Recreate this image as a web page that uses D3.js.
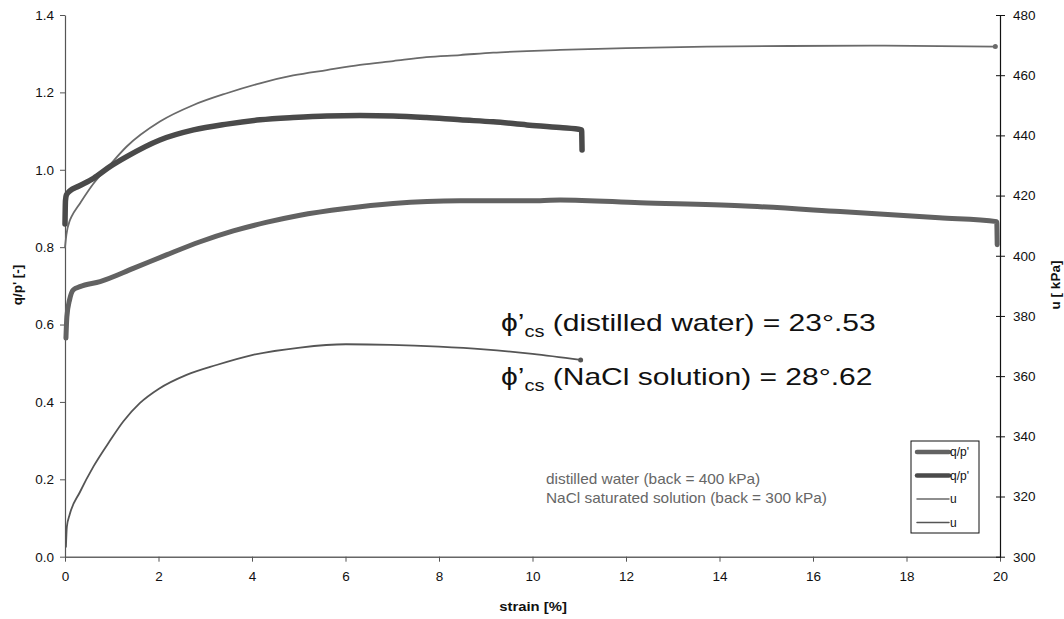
<!DOCTYPE html>
<html>
<head>
<meta charset="utf-8">
<script src="https://cdn.jsdelivr.net/npm/d3@7"></script>
<style>
  body { margin: 0; background: #fff; }
  text { font-family: "Liberation Sans", Arial, sans-serif; }
</style>
</head>
<body>
<div id="chart"></div>
<script>
var svgWidth = 1064;
var svgHeight = 619;

// distilled water, q/p'
var dwStrain = [0.02, 0.04, 0.1, 0.18, 0.32, 0.75, 1.46, 2.17, 2.89, 3.6, 4.3, 5.0, 6.0, 7.02, 8.45, 10.16, 10.59, 12.3, 14.44, 16.58, 18.7, 19.93, 19.94];
var dwQp = [0.565, 0.62, 0.665, 0.69, 0.698, 0.711, 0.745, 0.78, 0.814, 0.842, 0.864, 0.882, 0.9, 0.913, 0.92, 0.92, 0.922, 0.915, 0.907, 0.892, 0.876, 0.866, 0.806];

// NaCl solution, q/p'
var naStrain = [0, 0.01, 0.03, 0.1, 0.3, 0.61, 0.96, 1.32, 2.03, 2.75, 3.46, 4.17, 4.88, 5.6, 6.31, 7.02, 7.73, 8.45, 9.16, 9.88, 10.59, 11.05, 11.06];
var naQp = [0.86, 0.92, 0.935, 0.945, 0.958, 0.978, 1.008, 1.034, 1.077, 1.103, 1.118, 1.129, 1.135, 1.139, 1.14, 1.139, 1.135, 1.129, 1.124, 1.116, 1.109, 1.103, 1.051];

// distilled water, pore pressure u [kPa]
var dwUStrain = [0, 0.03, 0.107, 0.14, 0.32, 0.61, 0.96, 1.32, 2.03, 2.75, 3.46, 4.17, 4.88, 5.6, 6.31, 7.02, 7.73, 8.45, 9.16, 9.88, 10.59, 12, 13.73, 15.5, 17.3, 19.9];
var dwU = [402.8, 407, 411.9, 413, 417.4, 424, 430.2, 436.3, 444.6, 450.1, 454, 457.3, 459.9, 461.7, 463.4, 464.7, 466, 466.7, 467.5, 468, 468.4, 469, 469.5, 469.7, 469.8, 469.5];

// NaCl solution, pore pressure u [kPa]
var naUStrain = [0.02, 0.04, 0.1, 0.32, 0.61, 0.96, 1.25, 1.6, 2.01, 2.6, 3.24, 4.0, 5.03, 6.01, 6.97, 8.0, 8.96, 10.0, 11.03];
var naU = [303.3, 310, 314, 321.5, 330, 338.5, 345, 351, 355.8, 360.4, 363.7, 367, 369.5, 370.6, 370.4, 369.8, 368.9, 367.4, 365.4];

var xTicks = [0, 2, 4, 6, 8, 10, 12, 14, 16, 18, 20];
var leftTicks = [0, 0.2, 0.4, 0.6, 0.8, 1.0, 1.2, 1.4];
var rightTicks = [300, 320, 340, 360, 380, 400, 420, 440, 460, 480];

var legendLabels = ["q/p'", "q/p'", "u", "u"];

var svg = d3.select("#chart")
  .append("svg")
  .attr("width", svgWidth)
  .attr("height", svgHeight);

var xScale = d3.scaleLinear().domain([0, 20]).range([65, 1000]);
var yLeft = d3.scaleLinear().domain([0, 1.4]).range([556.7, 15]);
var yRight = d3.scaleLinear().domain([300, 480]).range([556.7, 15]);

// axes
var bottomAxis = d3.axisBottom(xScale).tickValues(xTicks).tickSize(5).tickSizeOuter(0).tickPadding(10);
var leftAxis = d3.axisLeft(yLeft).tickValues(leftTicks).tickFormat(d3.format(".1f")).tickSize(5).tickSizeOuter(0).tickPadding(6);
var rightAxis = d3.axisRight(yRight).tickValues(rightTicks).tickSize(5).tickSizeOuter(0).tickPadding(8);

var gx = svg.append("g")
  .attr("transform", "translate(0,556.7)")
  .call(bottomAxis);
gx.select(".domain").attr("stroke", "#666").attr("stroke-width", 1.5);
gx.selectAll(".tick line").attr("stroke", "#555");

var gl = svg.append("g")
  .attr("transform", "translate(65,0)")
  .call(leftAxis);
gl.select(".domain").attr("stroke", "#555").attr("stroke-width", 1.2);
gl.selectAll(".tick line").attr("stroke", "#555");

var gr = svg.append("g")
  .attr("transform", "translate(1000,0)")
  .call(rightAxis);
gr.select(".domain").attr("stroke", "#111").attr("stroke-width", 1.2);
gr.selectAll(".tick line").attr("x1", -4).attr("stroke", "#111");

svg.selectAll(".tick text")
  .style("font-size", "13.5px")
  .style("font-family", "Liberation Sans, Arial, sans-serif")
  .attr("fill", "#111");

// series
function pts(xs, ys) {
  return xs.map(function (d, i) { return [d, ys[i]]; });
}

var lineLeft = d3.line()
  .x(d => xScale(d[0]))
  .y(d => yLeft(d[1]))
  .curve(d3.curveMonotoneX);

var lineRight = d3.line()
  .x(d => xScale(d[0]))
  .y(d => yRight(d[1]))
  .curve(d3.curveMonotoneX);

var series = [
  { data: pts(dwUStrain, dwU), line: lineRight, color: "#6a6a6a", width: 1.8 },
  { data: pts(naUStrain, naU), line: lineRight, color: "#555555", width: 1.8 },
  { data: pts(dwStrain, dwQp), line: lineLeft, color: "#626262", width: 5 },
  { data: pts(naStrain, naQp), line: lineLeft, color: "#4a4a4a", width: 5.5 }
];

series.forEach(function (s) {
  svg.append("path")
    .datum(s.data)
    .attr("d", s.line)
    .attr("fill", "none")
    .attr("stroke", s.color)
    .attr("stroke-width", s.width)
    .attr("stroke-linecap", "round")
    .attr("stroke-linejoin", "round");
});

// small end markers on the u curves
[series[0], series[1]].forEach(function (s) {
  var last = s.data[s.data.length - 1];
  svg.append("circle")
    .attr("cx", xScale(last[0]))
    .attr("cy", yRight(last[1]))
    .attr("r", 2.5)
    .attr("fill", s.color);
});

// axis titles
svg.append("text")
  .attr("transform", "translate(22,285) rotate(-90)")
  .attr("text-anchor", "middle")
  .style("font-size", "13.5px")
  .style("font-weight", "bold")
  .attr("fill", "#111")
  .text("q/p' [-]");

svg.append("text")
  .attr("transform", "translate(1060,285) rotate(-90)")
  .attr("text-anchor", "middle")
  .style("font-size", "13.5px")
  .style("font-weight", "bold")
  .attr("fill", "#111")
  .text("u [ kPa]");

svg.append("text")
  .attr("transform", "translate(533,611) scale(1.1,1)")
  .attr("text-anchor", "middle")
  .style("font-size", "13.5px")
  .style("font-weight", "bold")
  .attr("fill", "#111")
  .text("strain [%]");

// friction angle annotations
var phiLines = [
  { rest: " (distilled water) = 23\u00b0.53", y: 331 },
  { rest: " (NaCl solution) = 28\u00b0.62", y: 385 }
];
phiLines.forEach(function (p) {
  var t = svg.append("text")
    .attr("transform", `translate(501,${p.y}) scale(1.25,1)`)
    .style("font-size", "24px")
    .attr("fill", "#111");
  t.append("tspan").text("\u03d5\u2019");
  t.append("tspan").attr("dy", 6).style("font-size", "16px").text("cs");
  t.append("tspan").attr("dy", -6).text(p.rest);
});

// test notes
var notes = ["distilled water (back = 400 kPa)", "NaCl saturated solution (back = 300 kPa)"];
notes.forEach(function (n, i) {
  svg.append("text")
    .attr("transform", `translate(546,${484 + i * 19}) scale(1.1,1)`)
    .style("font-size", "14px")
    .attr("fill", "#666")
    .text(n);
});

// legend
var legend = svg.append("g").attr("transform", "translate(911,441)");
legend.append("rect")
  .attr("width", 68)
  .attr("height", 92)
  .attr("fill", "#fff")
  .attr("stroke", "#111")
  .attr("stroke-width", 1);

var legendRows = legend.selectAll(".row")
  .data(legendLabels)
  .enter()
  .append("g")
  .attr("transform", (d, i) => `translate(0, ${11 + i * 23.5})`);

legendRows.append("line")
  .attr("x1", 6)
  .attr("x2", 38)
  .attr("stroke", (d, i) => [series[2].color, series[3].color, series[0].color, series[1].color][i])
  .attr("stroke-width", (d, i) => i < 2 ? 4.5 : 1.5)
  .attr("stroke-linecap", "round");

legendRows.append("text")
  .attr("x", 39)
  .attr("y", 4)
  .style("font-size", "12px")
  .attr("fill", "#111")
  .text(d => d);
</script>
</body>
</html>
